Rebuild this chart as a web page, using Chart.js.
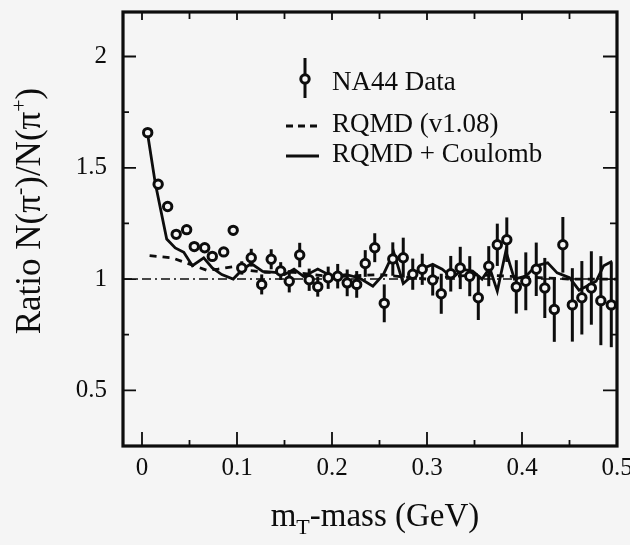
<!DOCTYPE html>
<html>
<head>
<meta charset="utf-8">
<script src="https://cdn.jsdelivr.net/npm/chart.js@4.4.0/dist/chart.umd.min.js"></script>
<style>
  html, body { margin: 0; padding: 0; background: #f5f5f5; }
  #wrap { width: 630px; height: 545px; }
</style>
</head>
<body>
<div id="wrap"><canvas id="chartCanva" width="630" height="545"></canvas></div>
<script>
// NA44 data: mT - mass (GeV), ratio and error
var mtValues = [0.006, 0.017, 0.027, 0.036, 0.047, 0.055, 0.066, 0.074, 0.086, 0.096,
                0.105, 0.115, 0.126, 0.136, 0.146, 0.155, 0.166, 0.176, 0.185, 0.196,
                0.206, 0.216, 0.226, 0.235, 0.245, 0.255, 0.264, 0.275, 0.285, 0.295,
                0.306, 0.315, 0.325, 0.335, 0.345, 0.354, 0.365, 0.374, 0.384, 0.394,
                0.404, 0.415, 0.424, 0.434, 0.443, 0.453, 0.463, 0.473, 0.483, 0.494];
var ratioValues = [1.658, 1.426, 1.326, 1.201, 1.222, 1.146, 1.141, 1.102, 1.122, 1.219,
                   1.05, 1.096, 0.976, 1.089, 1.036, 0.99, 1.108, 0.997, 0.966, 1.006,
                   1.013, 0.983, 0.976, 1.07, 1.141, 0.891, 1.09, 1.096, 1.022, 1.044,
                   0.996, 0.934, 1.024, 1.05, 1.013, 0.916, 1.058, 1.154, 1.177, 0.965,
                   0.99, 1.044, 0.96, 0.863, 1.154, 0.884, 0.916, 0.96, 0.903, 0.884];
var ratioErrors = [0.015, 0.015, 0.015, 0.015, 0.015, 0.018, 0.018, 0.02, 0.02, 0.022,
                   0.03, 0.04, 0.045, 0.045, 0.04, 0.05, 0.055, 0.05, 0.045, 0.05,
                   0.055, 0.06, 0.06, 0.06, 0.065, 0.085, 0.075, 0.09, 0.07, 0.07,
                   0.07, 0.09, 0.08, 0.095, 0.09, 0.1, 0.09, 0.095, 0.1, 0.12,
                   0.13, 0.12, 0.135, 0.145, 0.125, 0.165, 0.165, 0.165, 0.2, 0.19];

// RQMD (v1.08), dashed
var rqmdX = [0.008, 0.02, 0.032, 0.045, 0.055, 0.068, 0.08, 0.095, 0.11, 0.13, 0.16, 0.2, 0.25, 0.3, 0.35, 0.4, 0.45, 0.5];
var rqmdY = [1.105, 1.1, 1.095, 1.075, 1.06, 1.04, 1.045, 1.055, 1.04, 1.03, 1.03, 1.01, 1.02, 1.0, 1.02, 1.01, 1.0, 1.0];

// RQMD + Coulomb, solid
var coulombX = [0.006, 0.014, 0.026, 0.035, 0.044, 0.053, 0.065, 0.074, 0.084, 0.096,
                0.105, 0.115, 0.127, 0.14, 0.15, 0.16, 0.17, 0.185, 0.2, 0.215,
                0.229, 0.243, 0.254, 0.265, 0.275, 0.29, 0.306, 0.316, 0.327, 0.337,
                0.348, 0.358, 0.366, 0.374, 0.383, 0.392, 0.404, 0.415, 0.427, 0.437,
                0.45, 0.46, 0.478, 0.486, 0.495];
var coulombY = [1.65, 1.43, 1.18, 1.14, 1.12, 1.06, 1.095, 1.05, 1.02, 1.0,
                1.04, 1.07, 1.035, 1.03, 1.02, 1.045, 1.012, 1.045, 1.012, 1.02,
                1.005, 0.968, 1.02, 1.12, 0.98, 1.036, 1.066, 1.044, 1.005, 1.044,
                1.036, 1.0, 1.05, 0.946, 1.126, 1.0, 1.013, 1.06, 1.073, 1.028,
                1.006, 0.95, 0.99, 1.06, 1.08];

var unityX = [-0.02, 0.5];
var unityY = [1, 1];

var xTicks = [0, 0.1, 0.2, 0.3, 0.4, 0.5];
var xMinorTicks = [0.05, 0.15, 0.25, 0.35, 0.45];
var yTicks = [0.5, 1, 1.5, 2];
var yMinorTicks = [0.75, 1.25, 1.75];

var ink = '#0d0d0d';
var paper = '#f5f5f5';
var serif = "'Liberation Serif', 'DejaVu Serif', serif";

function pairs(xs, ys) {
    return xs.map(function (x, i) { return { x: x, y: ys[i] }; });
}

// error bars under the circles
var errorBars = {
    id: 'errorBars',
    beforeDatasetsDraw: function (chart) {
        var ctx = chart.ctx, xs = chart.scales.x, ys = chart.scales.y, a = chart.chartArea;
        ctx.save();
        ctx.beginPath();
        ctx.rect(a.left, a.top, a.right - a.left, a.bottom - a.top);
        ctx.clip();
        ctx.strokeStyle = ink;
        ctx.lineWidth = 3;
        mtValues.forEach(function (m, i) {
            var px = xs.getPixelForValue(m);
            ctx.beginPath();
            ctx.moveTo(px, ys.getPixelForValue(ratioValues[i] - ratioErrors[i]));
            ctx.lineTo(px, ys.getPixelForValue(ratioValues[i] + ratioErrors[i]));
            ctx.stroke();
        });
        ctx.restore();
    }
};

// frame, inward ticks, legend and axis titles
var decorations = {
    id: 'decorations',
    afterDraw: function (chart) {
        var ctx = chart.ctx, xs = chart.scales.x, ys = chart.scales.y, a = chart.chartArea;
        ctx.save();
        ctx.strokeStyle = ink;
        ctx.lineWidth = 1.8;
        ctx.beginPath();
        xTicks.forEach(function (v) {
            var p = xs.getPixelForValue(v);
            ctx.moveTo(p, a.bottom); ctx.lineTo(p, a.bottom - 14);
            ctx.moveTo(p, a.top); ctx.lineTo(p, a.top + 8);
        });
        xMinorTicks.forEach(function (v) {
            var p = xs.getPixelForValue(v);
            ctx.moveTo(p, a.bottom); ctx.lineTo(p, a.bottom - 6);
            ctx.moveTo(p, a.top); ctx.lineTo(p, a.top + 7);
        });
        yTicks.forEach(function (v) {
            var p = ys.getPixelForValue(v);
            ctx.moveTo(a.left, p); ctx.lineTo(a.left + 13, p);
            ctx.moveTo(a.right, p); ctx.lineTo(a.right - 14, p);
        });
        yMinorTicks.forEach(function (v) {
            var p = ys.getPixelForValue(v);
            ctx.moveTo(a.left, p); ctx.lineTo(a.left + 6, p);
            ctx.moveTo(a.right, p); ctx.lineTo(a.right - 7, p);
        });
        ctx.stroke();

        ctx.lineWidth = 3.2;
        ctx.strokeRect(a.left, a.top, a.right - a.left, a.bottom - a.top);

        // legend
        ctx.lineWidth = 3;
        ctx.beginPath();
        ctx.moveTo(305, 58); ctx.lineTo(305, 98);
        ctx.stroke();
        ctx.beginPath();
        ctx.arc(305, 79, 4.2, 0, Math.PI * 2);
        ctx.fillStyle = paper;
        ctx.fill();
        ctx.stroke();

        ctx.setLineDash([7, 5]);
        ctx.beginPath();
        ctx.moveTo(286, 126); ctx.lineTo(320, 126);
        ctx.stroke();
        ctx.setLineDash([]);
        ctx.beginPath();
        ctx.moveTo(286, 156); ctx.lineTo(319, 156);
        ctx.stroke();

        ctx.fillStyle = ink;
        ctx.font = '27px ' + serif;
        ctx.textAlign = 'left';
        ctx.textBaseline = 'alphabetic';
        ctx.fillText('NA44 Data', 332, 90);
        ctx.fillText('RQMD (v1.08)', 332, 132);
        ctx.fillText('RQMD + Coulomb', 332, 162);

        // x title: mT-mass (GeV)
        var big = '33px ' + serif, small = '22px ' + serif;
        ctx.font = big; var w1 = ctx.measureText('m').width;
        var w3 = ctx.measureText('-mass (GeV)').width;
        ctx.font = small; var w2 = ctx.measureText('T').width;
        var x0 = 375 - (w1 + w2 + w3) / 2, base = 526;
        ctx.font = big; ctx.fillText('m', x0, base);
        ctx.font = small; ctx.fillText('T', x0 + w1, base + 8);
        ctx.font = big; ctx.fillText('-mass (GeV)', x0 + w1 + w2, base);

        // y title: Ratio N(pi-)/N(pi+)
        var ybig = '35px ' + serif, ysmall = '22px ' + serif;
        var parts = [['Ratio N(\u03c0', ybig, 0], ['-', ysmall, -14], [')/N(\u03c0', ybig, 0], ['+', ysmall, -14], [')', ybig, 0]];
        var total = 0;
        parts.forEach(function (p) { ctx.font = p[1]; p.push(ctx.measureText(p[0]).width); total += p[3]; });
        ctx.translate(40, 211);
        ctx.rotate(-Math.PI / 2);
        var cx = -total / 2;
        parts.forEach(function (p) {
            ctx.font = p[1];
            ctx.fillText(p[0], cx, p[2]);
            cx += p[3];
        });
        ctx.restore();
    }
};

var config = {
    type: 'scatter',
    data: {
        datasets: [{
            label: 'NA44 Data',
            data: pairs(mtValues, ratioValues),
            showLine: false,
            pointRadius: 4.2,
            pointBackgroundColor: paper,
            pointBorderColor: ink,
            pointBorderWidth: 3,
            order: 0
        }, {
            label: 'RQMD + Coulomb',
            data: pairs(coulombX, coulombY),
            showLine: true,
            borderColor: ink,
            borderWidth: 2.8,
            pointRadius: 0,
            order: 1
        }, {
            label: 'RQMD (v1.08)',
            data: pairs(rqmdX, rqmdY),
            showLine: true,
            borderColor: ink,
            borderWidth: 2.8,
            borderDash: [7, 6],
            pointRadius: 0,
            order: 2
        }, {
            label: 'unity',
            data: pairs(unityX, unityY),
            showLine: true,
            borderColor: ink,
            borderWidth: 1.5,
            borderDash: [9, 4, 2, 4],
            pointRadius: 0,
            order: 3
        }]
    },
    options: {
        responsive: false,
        animation: false,
        devicePixelRatio: 1,
        layout: { padding: { left: 0, right: 13, top: 12, bottom: 0 } },
        plugins: {
            legend: { display: false },
            tooltip: { enabled: false },
            title: { display: false }
        },
        scales: {
            x: {
                type: 'linear',
                min: -0.02,
                max: 0.5,
                afterBuildTicks: function (s) { s.ticks = xTicks.map(function (v) { return { value: v }; }); },
                afterFit: function (s) { s.height = 99; s.paddingLeft = 0; s.paddingRight = 0; },
                grid: { display: false, drawTicks: false },
                border: { display: false },
                ticks: {
                    padding: 7,
                    color: ink,
                    font: { family: serif, size: 25 },
                    maxRotation: 0,
                    autoSkip: false,
                    callback: function (v) { return String(v); }
                }
            },
            y: {
                type: 'linear',
                min: 0.25,
                max: 2.2,
                afterBuildTicks: function (s) { s.ticks = yTicks.map(function (v) { return { value: v }; }); },
                afterFit: function (s) { s.width = 123; s.paddingTop = 0; s.paddingBottom = 0; },
                grid: { display: false, drawTicks: false },
                border: { display: false },
                ticks: {
                    padding: 16,
                    color: ink,
                    font: { family: serif, size: 25 },
                    autoSkip: false,
                    callback: function (v) { return String(v); }
                }
            }
        }
    },
    plugins: [errorBars, decorations]
};

var myChart = new Chart(document.getElementById('chartCanva'), config);
</script>
</body>
</html>
